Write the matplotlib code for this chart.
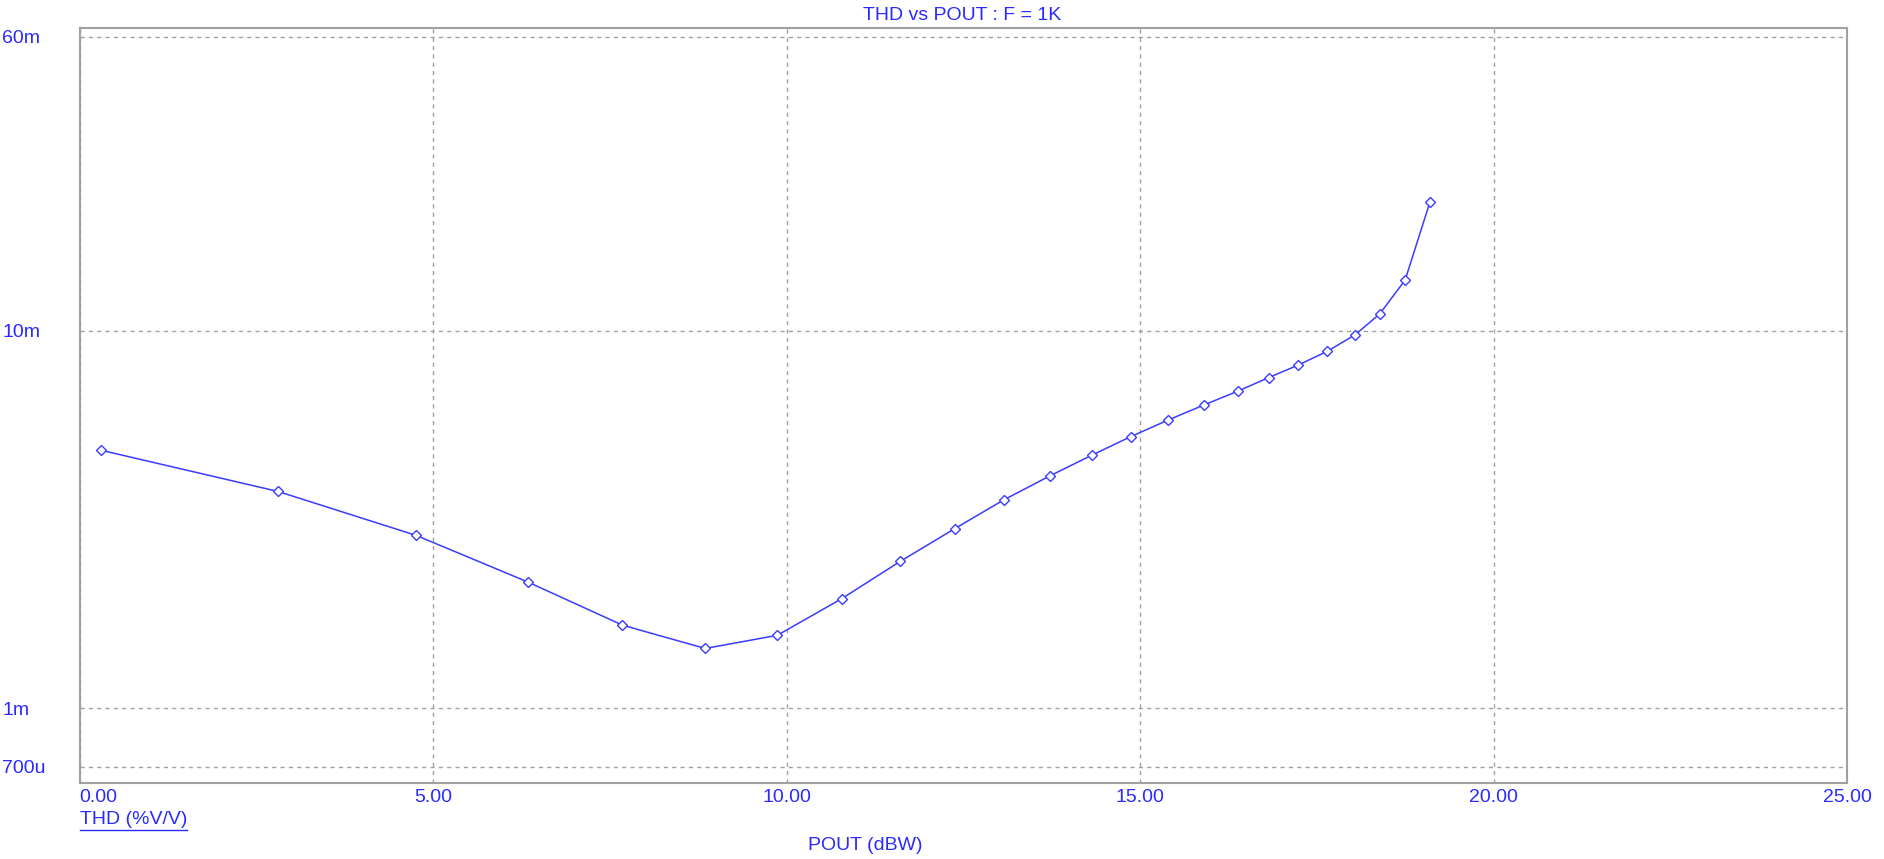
import numpy as np
import matplotlib
matplotlib.use('Agg')
import matplotlib.pyplot as plt
from matplotlib.lines import Line2D

# data (POUT in dBW, THD as %V/V)
pout = [0.31, 2.81, 4.76, 6.34, 7.68, 8.85, 9.87, 10.78, 11.61, 12.38,
        13.07, 13.72, 14.32, 14.87, 15.40, 15.90, 16.38, 16.82, 17.24,
        17.65, 18.04, 18.39, 18.75, 19.10]
thd = [4.82e-3, 3.75e-3, 2.87e-3, 2.16e-3, 1.66e-3, 1.44e-3, 1.56e-3,
       1.95e-3, 2.45e-3, 2.99e-3, 3.56e-3, 4.12e-3, 4.68e-3, 5.24e-3,
       5.80e-3, 6.35e-3, 6.91e-3, 7.51e-3, 8.11e-3, 8.82e-3, 9.74e-3,
       11.07e-3, 13.61e-3, 21.87e-3]

x_ticks = [0, 5, 10, 15, 20, 25]
x_labels = ['0.00', '5.00', '10.00', '15.00', '20.00', '25.00']
y_ticks = [700e-6, 1e-3, 10e-3, 60e-3]
y_labels = ['700u', '1m', '10m', '60m']

blue = '#2a2aff'
line_blue = '#3b3bff'
grey = '#a0a0a0'

plt.rcParams['font.family'] = ['Liberation Sans', 'DejaVu Sans']
plt.rcParams['font.size'] = 14

fig = plt.figure(figsize=(18.84, 8.59), dpi=100)
ax = fig.add_axes([79.5 / 1884, 76 / 859, (1847 - 79.5) / 1884, 755 / 859])

ax.plot(pout, thd, '-', color=line_blue, lw=1.1, marker='D', ms=5,
        mfc='white', mec=line_blue, mew=1.0)

ax.set_yscale('log')
ax.set_xlim(0, 25)
ax.set_ylim(0.634e-3, 63.3e-3)

ax.set_xticks(x_ticks)
ax.set_xticklabels(x_labels, color=blue)
ax.set_yticks(y_ticks)
ax.set_yticklabels(y_labels, color=blue)
ax.yaxis.set_minor_locator(matplotlib.ticker.NullLocator())
ax.tick_params(axis='both', length=0)
ax.tick_params(axis='x', pad=4)
ax.tick_params(axis='y', pad=55.8)
for lbl in ax.get_yticklabels():
    lbl.set_horizontalalignment('left')
ax.get_xticklabels()[0].set_horizontalalignment('left')

ax.grid(True, which='major', color=grey, ls=(0, (3, 3)), lw=1.0)
for s in ax.spines.values():
    s.set_color(grey)
    s.set_linewidth(1.5)

fig.text(962.5 / 1884, 1 - 15 / 859, 'THD vs POUT : F = 1K', color=blue,
         ha='center', va='center')
fig.text(865 / 1884, 1 - 845 / 859, 'POUT (dBW)', color=blue,
         ha='center', va='center')
leg = fig.text(79.5 / 1884, 1 - 820 / 859, 'THD (%V/V)', color=blue,
               ha='left', va='center')

# underline the trace name like the simulator does
fig.canvas.draw()
bb = leg.get_window_extent()
x0, x1 = bb.x0 / fig.bbox.width, bb.x1 / fig.bbox.width
yy = (bb.y0 - 1) / fig.bbox.height
fig.add_artist(Line2D([x0, x1], [yy, yy], color=blue, lw=1.0,
                      transform=fig.transFigure))

fig.savefig('out.png', dpi=100)
